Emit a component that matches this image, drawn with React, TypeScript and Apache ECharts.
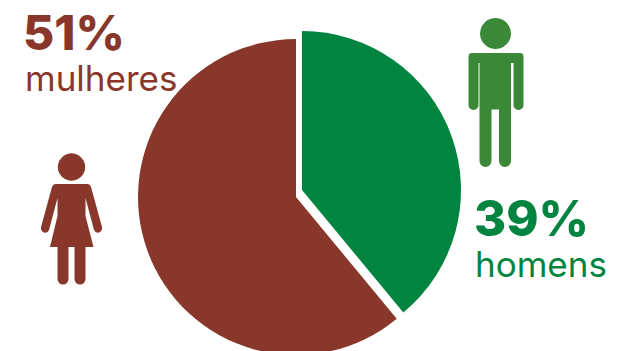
import React, { useEffect, useRef } from "react";
import * as echarts from "echarts";

// Participação por sexo (%)
const categories = ["homens", "mulheres"];
const shares = [39, 61]; // fatias completam o círculo
const statedLabels = ["39%", "51%"]; // rótulos conforme publicados

const GREEN = "#00843f";
const BROWN = "#88372a";
const MAN_GREEN = "#3b8838";

const MAN_BODY =
  "M472 53 L520 53 Q523.5 53 523.5 56.5 L523.5 105 A5 5 0 0 1 513.5 105 L513.5 63 L511 63 L511 161 A6 6 0 0 1 499 161 L499 109.5 L491.5 109.5 L491.5 161 A6 6 0 0 1 479.5 161 L479.5 63 L478.5 63 L478.5 105 A5 5 0 0 1 468.5 105 L468.5 56.5 Q468.5 53 472 53 Z";
const WOMAN_BODY =
  "M56 184 L87 184 Q90 184 91 187 L102 227 Q102.5 231 99 232.5 Q95.5 233.5 94 230 L85.5 198 L85.5 216 L93.5 247 L85.5 247 L85.5 279 A5.5 5.5 0 0 1 74.5 279 L74.5 247 L68.5 247 L68.5 279 A5.5 5.5 0 0 1 57.5 279 L57.5 247 L50 247 L57.5 216 L57.5 198 L49 230 Q47.5 233.5 44 232.5 Q40.5 231 41 227 L52 187 Q53 184 56 184 Z";

echarts.graphic.registerShape("manBody", echarts.graphic.extendPath(MAN_BODY, {}));
echarts.graphic.registerShape("womanBody", echarts.graphic.extendPath(WOMAN_BODY, {}));

const FONT = "Inter, 'Noto Sans', sans-serif";

const label = (text: string, x: number, y: number, size: number, weight: number, fill: string) => ({
  type: "text",
  x,
  y,
  z: 10,
  style: { text, fill, font: `${weight} ${size}px ${FONT}`, textVerticalAlign: "bottom", textBaseline: "alphabetic" },
});

// Cada fatia tem o próprio centro, o que abre o vão branco entre elas
const slice = (index: number, color: string, center: [number, number], radius: number) => ({
  type: "pie",
  silent: true,
  clockwise: true,
  startAngle: 90,
  center,
  radius,
  label: { show: false },
  labelLine: { show: false },
  emphasis: { disabled: true },
  data: categories.map((name, i) => ({
    name,
    value: shares[i],
    itemStyle: { color: i === index ? color : "transparent" },
  })),
});

export default function App() {
  const ref = useRef<HTMLDivElement>(null);

  useEffect(() => {
    const chart = echarts.init(ref.current!, undefined, { renderer: "svg" });
    chart.setOption({
      animation: false,
      backgroundColor: "#ffffff",
      series: [
        slice(0, GREEN, [302, 190], 159),
        slice(1, BROWN, [296, 197], 158),
      ],
      graphic: [
        { type: "circle", shape: { cx: 495.5, cy: 33.5, r: 15.5 }, style: { fill: MAN_GREEN } },
        { type: "manBody", x: 0, y: 0, style: { fill: MAN_GREEN } },
        { type: "circle", shape: { cx: 71.5, cy: 167, r: 13.7 }, style: { fill: BROWN } },
        { type: "womanBody", x: 0, y: 0, style: { fill: BROWN } },
        label(statedLabels[1], 23, 56, 48, 800, BROWN),
        label(categories[1], 25, 95, 35, 400, BROWN),
        label(statedLabels[0], 474, 243, 49, 800, GREEN),
        label(categories[0], 475, 281, 35, 400, GREEN),
      ],
    });
    return () => chart.dispose();
  }, []);

  return <div ref={ref} style={{ position: "fixed", left: 0, top: 0, width: 619, height: 351 }} />;
}
